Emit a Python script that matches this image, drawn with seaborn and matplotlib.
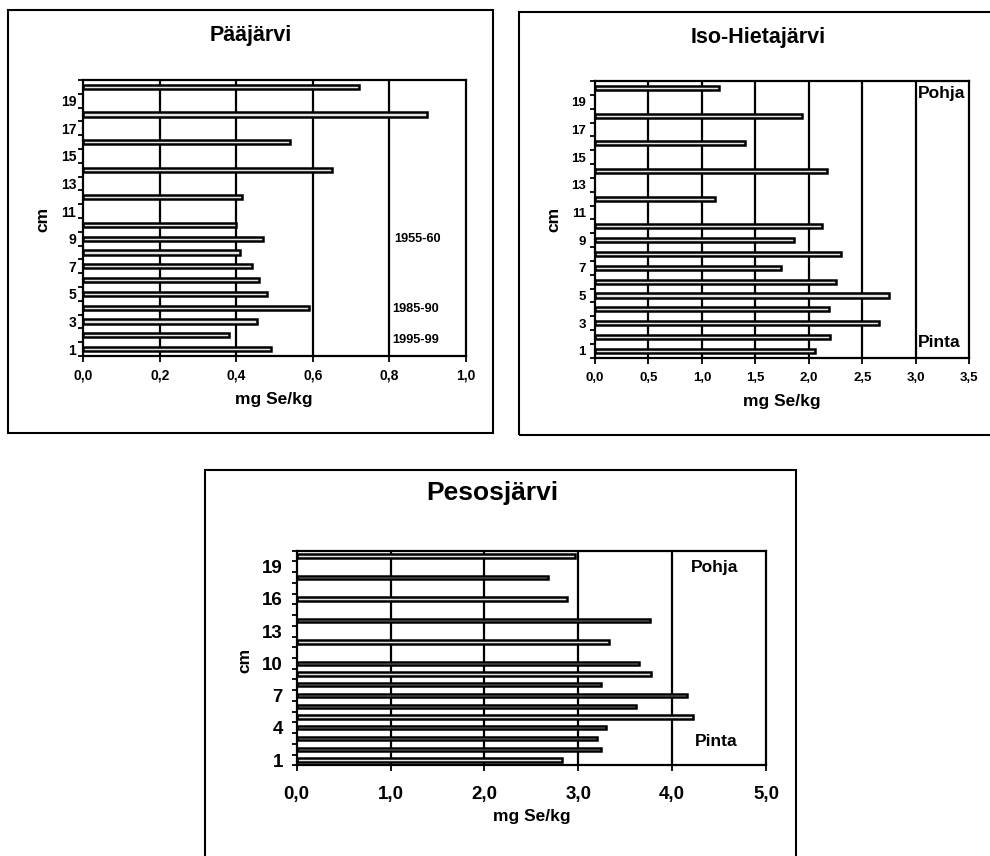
import matplotlib
matplotlib.use("Agg")
import matplotlib.pyplot as plt
from matplotlib.patches import Rectangle
import seaborn as sns
import pandas as pd

# ---- data ----
cm_levels = [1, 2, 3, 4, 5, 6, 7, 8, 9, 10, 12, 14, 16, 18, 20]
paajarvi = [0.49, 0.38, 0.455, 0.59, 0.48, 0.46, 0.44, 0.41, 0.47, 0.40, 0.415, 0.65, 0.54, 0.90, 0.72]
iso_hietajarvi = [2.06, 2.20, 2.655, 2.19, 2.75, 2.25, 1.74, 2.30, 1.86, 2.125, 1.12, 2.17, 1.40, 1.94, 1.16]
pesosjarvi = [2.83, 3.24, 3.20, 3.30, 4.22, 3.62, 4.16, 3.24, 3.78, 3.65, 3.33, 3.76, 2.88, 2.68, 2.96]

titles = ["Pääjärvi", "Iso-Hietajärvi", "Pesosjärvi"]
x_ticks_paa = [0.0, 0.2, 0.4, 0.6, 0.8, 1.0]
x_ticks_iso = [0.0, 0.5, 1.0, 1.5, 2.0, 2.5, 3.0, 3.5]
x_ticks_pes = [0.0, 1.0, 2.0, 3.0, 4.0, 5.0]
y_labels_paa = [1, 3, 5, 7, 9, 11, 13, 15, 17, 19]
y_labels_iso = [1, 3, 5, 7, 9, 11, 13, 15, 17, 19]
y_labels_pes = [1, 4, 7, 10, 13, 16, 19]
x_label = "mg Se/kg"
y_label = "cm"

sns.set_theme(style="white")
plt.rcParams["font.family"] = ["Liberation Sans", "DejaVu Sans"]
plt.rcParams["font.weight"] = "bold"
plt.rcParams["text.color"] = "black"
plt.rcParams["axes.labelcolor"] = "black"
plt.rcParams["xtick.color"] = "black"
plt.rcParams["ytick.color"] = "black"

fig = plt.figure(figsize=(9.9, 8.56), dpi=100)
W, H = 990.0, 856.0


def fx(px):
    return px / W


def fy(py):
    return 1 - py / H


# panel frames
for (x0, y0, x1, y1) in [(8, 10, 493, 433), (519, 12, 1010, 435), (205, 470, 796, 900)]:
    fig.patches.append(Rectangle((fx(x0), fy(y1)), fx(x1 - x0), (y1 - y0) / H,
                                 transform=fig.transFigure, fill=False,
                                 edgecolor="black", linewidth=1.5))


def panel(rect, vals, xticks, ylabs, tick_fs, pad_x, pad_y, bar_w,
          xlab_pos, ylab_pos, lab_fs):
    ax = fig.add_axes(rect)
    df = pd.DataFrame({"cm": cm_levels, "se": vals})
    sns.barplot(data=df, x="se", y="cm", orient="y", native_scale=True,
                width=bar_w, color="#e4e4e4", edgecolor="black",
                linewidth=1.8, errorbar=None, ax=ax, saturation=1)
    ax.set_xlim(xticks[0], xticks[-1])
    ax.set_ylim(0.5, 20.5)
    ax.set_xticks(xticks)
    ax.set_xticklabels([f"{v:.1f}".replace(".", ",") for v in xticks],
                       fontsize=tick_fs, fontweight="bold")
    bounds = [k + 0.5 for k in range(0, 21)]
    ax.set_yticks(bounds)
    ax.set_yticklabels([])
    ax.set_yticks(ylabs, minor=True)
    ax.set_yticklabels([str(v) for v in ylabs], minor=True,
                       fontsize=tick_fs, fontweight="bold")
    ax.tick_params(axis="y", which="major", direction="out", length=3.5,
                   width=1.3, color="black", left=True)
    ax.tick_params(axis="y", which="minor", length=0, pad=pad_y, left=True)
    ax.tick_params(axis="x", which="major", direction="out", length=4,
                   width=1.3, color="black", pad=pad_x, bottom=True)
    ax.grid(False)
    for v in xticks[1:-1]:
        ax.axvline(v, color="black", linewidth=1.6, zorder=0.5)
    for s in ax.spines.values():
        s.set_visible(True)
        s.set_color("black")
        s.set_linewidth(1.6)
    ax.set_xlabel(x_label, fontsize=lab_fs, fontweight="bold")
    ax.xaxis.set_label_coords(*xlab_pos)
    ax.xaxis.label.set_verticalalignment("center")
    ax.set_ylabel(y_label, fontsize=lab_fs, fontweight="bold")
    ax.yaxis.set_label_coords(*ylab_pos)
    ax.yaxis.label.set_verticalalignment("center")
    ax.yaxis.label.set_horizontalalignment("center")
    return ax


# Pääjärvi
ax1 = panel([fx(83.3), fy(356), fx(382.4), 276 / H], paajarvi, x_ticks_paa,
            y_labels_paa, 10, 5, 5, 0.3, (0.499, -0.159), (-0.105, 0.493), 12.5)
fig.text(fx(250.5), fy(36), titles[0], ha="center", va="center",
         fontsize=15.5, fontweight="bold")
ax1.text(0.812, 9.0, "1955-60", ha="left", va="center", fontsize=9.2, fontweight="bold")
ax1.text(0.809, 3.9, "1985-90", ha="left", va="center", fontsize=9.2, fontweight="bold")
ax1.text(0.809, 1.66, "1995-99", ha="left", va="center", fontsize=9.2, fontweight="bold")

# Iso-Hietajärvi
ax2 = panel([fx(595), fy(357.7), fx(374.3), 276.7 / H], iso_hietajarvi, x_ticks_iso,
            y_labels_iso, 9.5, 6, 6.5, 0.3, (0.498, -0.159), (-0.111, 0.498), 12.5)
fig.text(fx(758), fy(37), titles[1], ha="center", va="center",
         fontsize=15.5, fontweight="bold")
ax2.text(3.015, 19.57, "Pohja", ha="left", va="center", fontsize=12.5, fontweight="bold")
ax2.text(3.02, 1.58, "Pinta", ha="left", va="center", fontsize=12.5, fontweight="bold")

# Pesosjärvi
ax3 = panel([fx(296.7), fy(765.4), fx(469.3), 214.8 / H], pesosjarvi, x_ticks_pes,
            y_labels_pes, 13.5, 11, 10, 0.3, (0.501, -0.24), (-0.110, 0.49), 12.5)
fig.text(fx(492), fy(493), titles[2], ha="center", va="center",
         fontsize=19, fontweight="bold")
ax3.text(4.45, 18.9, "Pohja", ha="center", va="center", fontsize=12.5, fontweight="bold")
ax3.text(4.47, 2.7, "Pinta", ha="center", va="center", fontsize=12.5, fontweight="bold")

fig.savefig("out.png", dpi=100)
